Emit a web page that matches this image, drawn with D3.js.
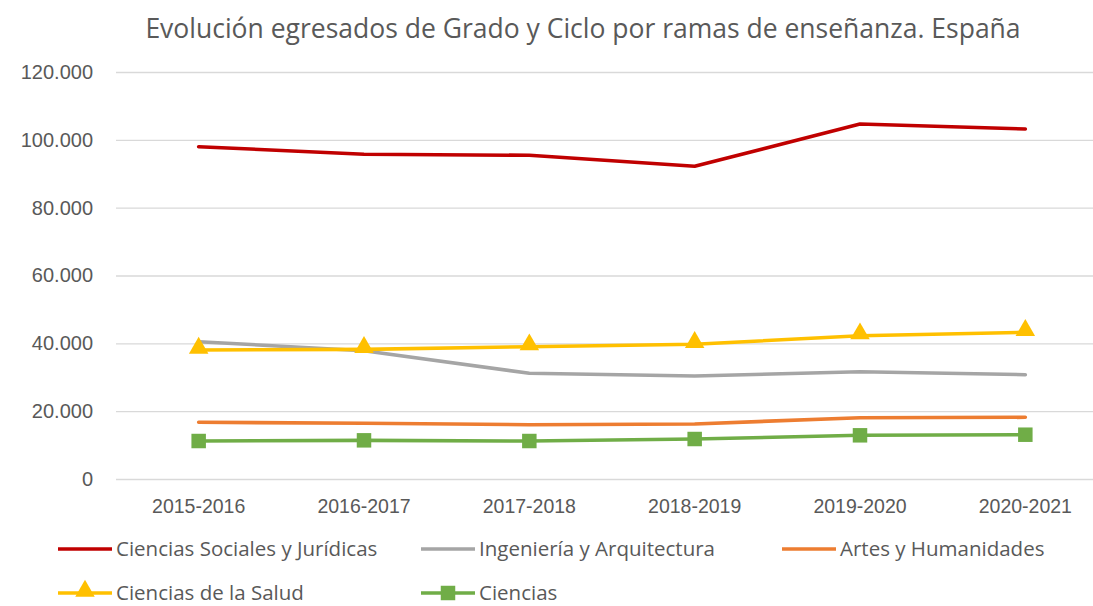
<!DOCTYPE html>
<html>
<head>
  <meta charset="utf-8">
  <script src="https://cdnjs.cloudflare.com/ajax/libs/d3/7.8.5/d3.min.js"></script>
  <style>
    body { margin: 0; background: #fff; }
    svg { display: block; font-family: "Open Sans", sans-serif; }
  </style>
</head>
<body>
  <svg></svg>
  <script>
    // data
    var categories = ["2015-2016", "2016-2017", "2017-2018", "2018-2019", "2019-2020", "2020-2021"];
    var sociales   = [97980, 95740, 95440, 92200, 104670, 103200];
    var ingenieria = [40480, 37830, 31160, 30370, 31640, 30750];
    var artes      = [16720, 16420, 16010, 16220, 18080, 18190];
    var salud      = [38030, 38230, 39010, 39710, 42250, 43250];
    var ciencias   = [11200, 11400, 11200, 11790, 12880, 13060];
    var yTicks     = [0, 20000, 40000, 60000, 80000, 100000, 120000];

    var series = [
      { name: "Ciencias Sociales y Jurídicas", values: sociales,   color: "#C00000", marker: null },
      { name: "Ingeniería y Arquitectura",     values: ingenieria, color: "#A5A5A5", marker: null },
      { name: "Artes y Humanidades",           values: artes,      color: "#ED7D31", marker: null },
      { name: "Ciencias de la Salud",          values: salud,      color: "#FFC000", marker: "triangle" },
      { name: "Ciencias",                      values: ciencias,   color: "#70AD47", marker: "square" }
    ];

    var W = 1093, H = 606;
    var svg = d3.select("svg").attr("width", W).attr("height", H);

    var plotLeft = 116, plotRight = 1108, plotTop = 72, plotBottom = 479;
    var textColor = "#595959";

    var es = d3.formatLocale({ decimal: ",", thousands: ".", grouping: [3], currency: ["", " €"] });
    var fmt = es.format(",");

    var x = d3.scaleBand().domain(categories).range([plotLeft, plotRight]).padding(0);
    var cx = function(c) { return x(c) + x.bandwidth() / 2; };
    var y = d3.scaleLinear().domain([0, 120000]).range([plotBottom, plotTop]);

    // title
    svg.append("text")
      .attr("x", 583).attr("y", 38)
      .attr("text-anchor", "middle")
      .attr("fill", textColor)
      .style("font-size", "26.5px")
      .text("Evolución egresados de Grado y Ciclo por ramas de enseñanza. España");

    // y axis + gridlines
    var yAxis = svg.append("g")
      .attr("transform", "translate(" + plotLeft + ",0)")
      .call(d3.axisLeft(y).tickValues(yTicks).tickFormat(fmt).tickSize(-(plotRight - plotLeft)).tickPadding(23));
    yAxis.select(".domain").remove();
    yAxis.selectAll(".tick line").attr("stroke", "#D9D9D9").attr("stroke-width", 1.3);
    yAxis.selectAll(".tick text").attr("fill", textColor).style("font-size", "20px");

    // x axis labels
    var xAxis = svg.append("g")
      .attr("transform", "translate(0," + plotBottom + ")")
      .call(d3.axisBottom(x).tickSize(0).tickPadding(20));
    xAxis.select(".domain").remove();
    xAxis.selectAll(".tick text").attr("fill", textColor).style("font-size", "19.5px");

    var line = d3.line()
      .x(function(d, i) { return cx(categories[i]); })
      .y(function(d) { return y(d); });

    var tri = d3.symbol().type(d3.symbolTriangle).size(165);
    var sq = d3.symbol().type(d3.symbolSquare).size(210);

    series.forEach(function(s) {
      var g = svg.append("g");
      g.append("path")
        .attr("d", line(s.values))
        .attr("fill", "none")
        .attr("stroke", s.color)
        .attr("stroke-width", 3.6)
        .attr("stroke-linejoin", "round")
        .attr("stroke-linecap", "round");
      if (s.marker) {
        g.selectAll("path.mk")
          .data(s.values)
          .enter().append("path")
          .attr("class", "mk")
          .attr("d", s.marker === "triangle" ? tri : sq)
          .attr("transform", function(d, i) {
            return "translate(" + cx(categories[i]) + "," + (y(d) - (s.marker === "triangle" ? 2 : 0)) + ")";
          })
          .attr("fill", s.color);
      }
    });

    // legend
    var legendPos = [[58, 549], [421, 549], [782, 549], [58, 593], [421, 593]];
    series.forEach(function(s, i) {
      var p = legendPos[i];
      var lg = svg.append("g").attr("transform", "translate(" + p[0] + "," + p[1] + ")");
      lg.append("line")
        .attr("x1", 0).attr("x2", 54)
        .attr("stroke", s.color).attr("stroke-width", 3.6);
      if (s.marker) {
        lg.append("path")
          .attr("d", s.marker === "triangle" ? tri : sq)
          .attr("transform", "translate(27," + (s.marker === "triangle" ? -2 : 0) + ")")
          .attr("fill", s.color);
      }
      lg.append("text")
        .attr("x", 58).attr("dy", "0.35em")
        .attr("fill", textColor)
        .style("font-size", "20.5px")
        .text(s.name);
    });
  </script>
</body>
</html>
